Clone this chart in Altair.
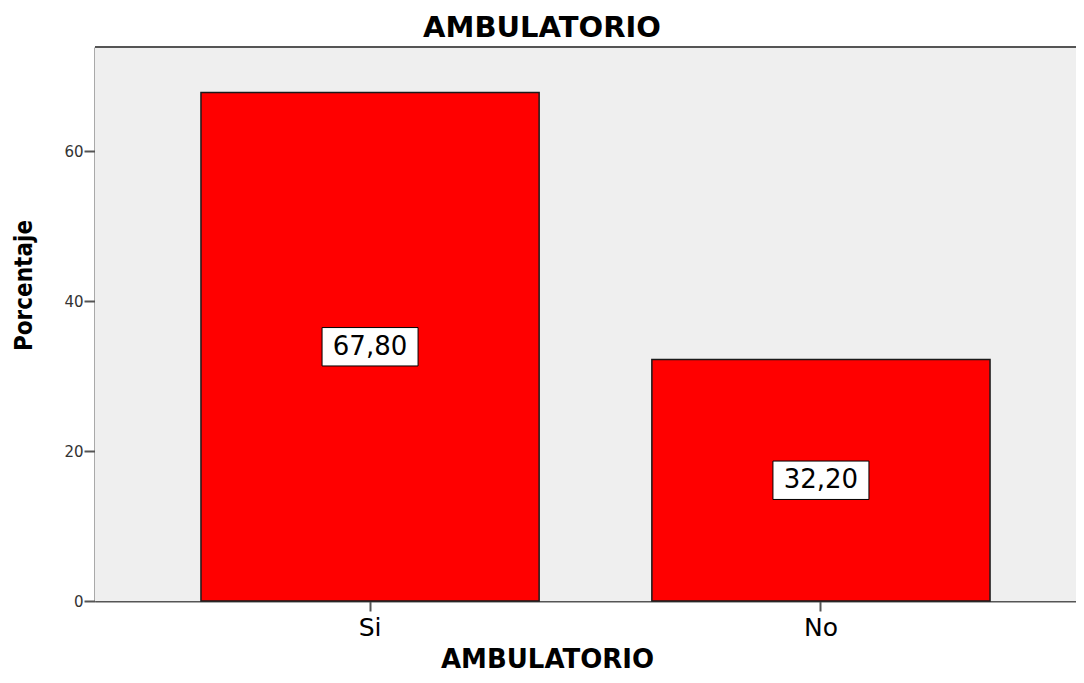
import altair as alt
import pandas as pd

categories = ["Si", "No"]
percentages = [67.8, 32.2]
chart_title = "AMBULATORIO"

df = pd.DataFrame({"AMBULATORIO": categories, "Porcentaje": percentages})

W = 981
H = 554

xscale = alt.Scale(domain=categories, range=[0, 1001], paddingInner=0.25, paddingOuter=0.235)
yscale = alt.Scale(domain=[0, 73.87], nice=False, zero=True)

x_enc = alt.X(
    "AMBULATORIO:N",
    scale=xscale,
    sort=categories,
    axis=alt.Axis(
        title="AMBULATORIO",
        labelAngle=0,
        labelFont="DejaVu Sans",
        labelFontSize=25,
        labelColor="#000000",
        labelPadding=4,
        tickSize=10,
        tickColor="#555555",
        tickWidth=2,
        domain=True,
        domainColor="#555555",
        domainWidth=2,
        titleFont="DejaVu Sans",
        titleFontSize=26,
        titleFontWeight="bold",
        titleColor="#000000",
        titleX=452,
        titleY=66,
        titleAlign="center",
        titleBaseline="alphabetic",
    ),
)

y_enc = alt.Y(
    "Porcentaje:Q",
    scale=yscale,
    axis=alt.Axis(
        title="Porcentaje",
        values=[0, 20, 40, 60],
        grid=False,
        labelFont="DejaVu Sans",
        labelFontSize=15,
        labelColor="#333333",
        labelPadding=1,
        tickSize=11,
        tickColor="#555555",
        tickWidth=2,
        domain=True,
        domainColor="#555555",
        domainWidth=2,
        titleFont="DejaVu Sans Condensed, Liberation Sans",
        titleFontSize=24,
        titleFontWeight="bold",
        titleColor="#000000",
        titleAngle=270,
        titleX=-71,
        titleY=238,
        titleAlign="center",
        titleBaseline="middle",
    ),
)

background = alt.Chart(df).mark_rect(color="#efefef").encode(
    x=alt.value(0), x2=alt.value(1001), y=alt.value(0), y2=alt.value(H)
)

top_line = alt.Chart(df).mark_rule(color="#555555", strokeWidth=2).encode(
    x=alt.value(0), x2=alt.value(1001), y=alt.value(0)
)

title_text = alt.Chart(pd.DataFrame({"t": [chart_title]})).mark_text(
    font="DejaVu Sans", fontSize=29, fontWeight="bold", color="#000000",
    align="center", baseline="alphabetic",
).encode(x=alt.value(447), y=alt.value(-10), text="t:N")

bars = alt.Chart(df).mark_bar(color="#ff0000", stroke="#1a1a1a", strokeWidth=1.5).encode(
    x=x_enc, y=y_enc
)

lab = alt.Chart(df).transform_calculate(
    mid="datum.Porcentaje / 2",
    label="replace(format(datum.Porcentaje, '.2f'), '.', ',')",
)

boxes = lab.mark_point(
    shape="M-1,-0.4L1,-0.4L1,0.4L-1,0.4Z",
    size=9216,
    filled=True,
    fill="#ffffff",
    stroke="#000000",
    strokeWidth=1,
    opacity=1,
).encode(
    x=alt.X("AMBULATORIO:N", scale=xscale, sort=categories),
    y=alt.Y("mid:Q", scale=yscale),
)

texts = lab.mark_text(
    font="DejaVu Sans", fontSize=26, color="#000000", baseline="middle", align="center"
).encode(
    x=alt.X("AMBULATORIO:N", scale=xscale, sort=categories),
    y=alt.Y("mid:Q", scale=yscale),
    text="label:N",
)

chart = alt.layer(background, bars, top_line, boxes, texts, title_text).properties(
    width=W,
    height=H,
    autosize=alt.AutoSizeParams(type="none"),
    padding={"left": 87, "top": 39, "right": 0, "bottom": 74},
).configure_view(stroke=None)

chart.save("out.html", embed_options={"renderer": "svg", "actions": False})
